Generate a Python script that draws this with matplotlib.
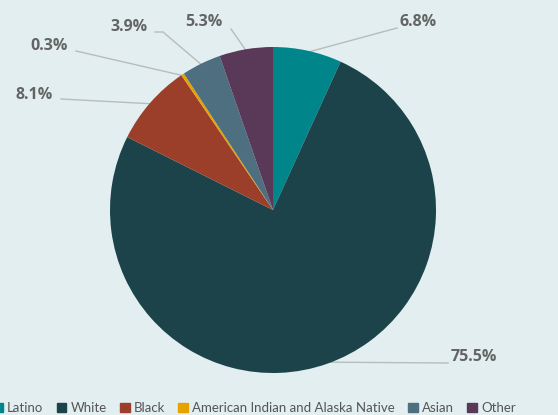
import matplotlib.pyplot as plt
import numpy as np

# data
groups = ["Latino", "White", "Black", "American Indian and Alaska Native", "Asian", "Other"]
shares = [6.8, 75.5, 8.1, 0.3, 3.9, 5.3]
colors = ["#00868a", "#1b4349", "#9b3f2a", "#e8a200", "#4d6f80", "#5a3858"]

# label text left/centre (pixel coords, y from top) and outer end of leader line
label_pos = [(399, 22), (451, 357), (16, 95), (30, 46), (110, 27), (185, 22)]
line_end = [(397, 28), (448, 363), (61, 99), (76, 51), (163, 32), (231, 29)]

bg = "#e2eef0"
W, H = 558, 415
cx, cy, r = 273, 205, 163

fig = plt.figure(figsize=(W / 100, H / 100), dpi=100)
fig.patch.set_facecolor(bg)
ax = fig.add_axes([0, 0, 1, 1])
ax.set_facecolor(bg)

wedges, _ = ax.pie(shares, colors=colors, startangle=90, counterclock=False,
                   center=(cx, cy), radius=r, wedgeprops=dict(linewidth=0))
ax.set_xlim(0, W)
ax.set_ylim(0, H)
ax.set_aspect("equal")
ax.axis("off")

for i, w in enumerate(wedges):
    ang = np.deg2rad((w.theta1 + w.theta2) / 2)
    px = cx + r * 0.99 * np.cos(ang)
    py = cy + r * 0.99 * np.sin(ang)
    ex, ey = line_end[i]
    ey = H - ey
    if groups[i] == "Asian":
        # short horizontal elbow
        xs = [ex - 8, ex, px]
        ys = [ey, ey, py]
    else:
        xs = [ex, px]
        ys = [ey, py]
    ax.plot(xs, ys, color="#b8bcbd", lw=1.0, zorder=0.5)
    tx, ty = label_pos[i]
    ax.text(tx, H - ty, "%.1f%%" % shares[i], fontsize=11.5, fontweight="bold",
            color="#646464", family="Open Sans", ha="left", va="center")

handles = [plt.Rectangle((0, 0), 1, 1, color=c) for c in colors]
fig.legend(handles, groups, loc="center", bbox_to_anchor=(0.456, 1 - 408 / H), ncol=6,
           frameon=False, handlelength=0.75, handleheight=0.75, handletextpad=0.3,
           columnspacing=1.0, prop={"family": "Lato", "size": 9.5}, labelcolor="#555555")

fig.savefig("out.png", dpi=100, facecolor=bg)
